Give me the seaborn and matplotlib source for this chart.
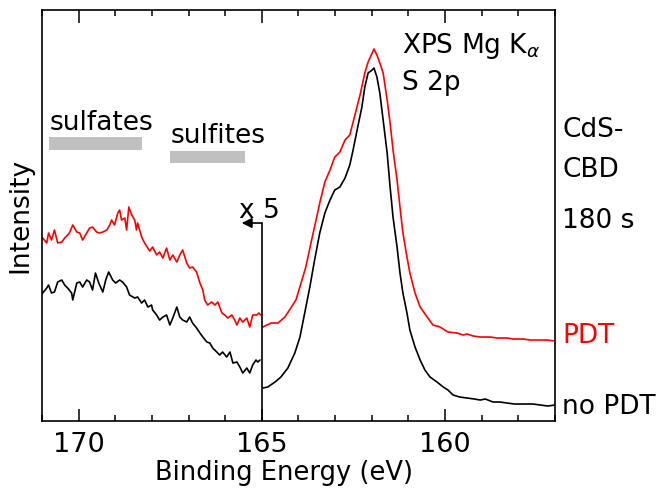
import matplotlib
matplotlib.use("Agg")
import matplotlib.pyplot as plt
import seaborn as sns
import pandas as pd

sns.set_style("ticks")
plt.rcParams['font.family'] = ['DejaVu Sans']
plt.rcParams['mathtext.fontset'] = 'dejavusans'
plt.rcParams.update({
    'text.color': 'black', 'axes.labelcolor': 'black', 'axes.edgecolor': 'black',
    'xtick.color': 'black', 'ytick.color': 'black',
    'xtick.direction': 'in', 'xtick.top': True, 'xtick.bottom': True,
    'xtick.major.size': 9, 'xtick.minor.size': 4.5,
    'xtick.major.width': 1.1, 'xtick.minor.width': 1.1,
    'xtick.minor.visible': False,
})

# ---- data (binding energy in eV, intensity in arbitrary units) ----
# region left of 165 eV is shown magnified x5
pdt_left_be = [170.98, 170.87, 170.82, 170.74, 170.66, 170.57, 170.46, 170.38, 170.25, 170.16,
               170.05, 169.97, 169.89, 169.78, 169.70, 169.62, 169.51, 169.43, 169.34, 169.23,
               169.15, 169.10, 169.02, 168.93, 168.88, 168.83, 168.74, 168.69, 168.63, 168.55,
               168.47, 168.42, 168.39, 168.28, 168.20, 168.06, 167.98, 167.87, 167.79, 167.70,
               167.60, 167.51, 167.43, 167.32, 167.24, 167.16, 167.05, 166.97, 166.89, 166.78,
               166.69, 166.61, 166.56, 166.48, 166.37, 166.28, 166.20, 166.09, 166.01, 165.93,
               165.82, 165.74, 165.68, 165.60, 165.52, 165.41, 165.33, 165.25, 165.14, 165.08, 165.03]
pdt_left_int = [183, 178, 188, 181, 191, 178, 179, 183, 188, 196,
                189, 188, 181, 188, 193, 194, 189, 188, 189, 191,
                196, 201, 196, 208, 211, 201, 203, 191, 214, 206,
                201, 191, 198, 184, 178, 170, 174, 166, 169, 163,
                173, 161, 166, 159, 166, 171, 158, 153, 154, 149,
                138, 131, 121, 116, 119, 116, 119, 108, 106, 103,
                106, 101, 96, 103, 99, 103, 94, 106, 106, 108, 106]

nopdt_left_be = [170.98, 170.87, 170.82, 170.74, 170.66, 170.57, 170.46, 170.38, 170.30, 170.19,
                 170.16, 170.05, 169.97, 169.89, 169.78, 169.70, 169.62, 169.54, 169.45, 169.34,
                 169.26, 169.18, 169.07, 168.99, 168.88, 168.80, 168.69, 168.61, 168.47, 168.39,
                 168.28, 168.20, 168.11, 168.01, 167.98, 167.87, 167.79, 167.70, 167.60, 167.51,
                 167.43, 167.32, 167.24, 167.16, 167.05, 166.97, 166.89, 166.78, 166.69, 166.61,
                 166.50, 166.42, 166.34, 166.23, 166.15, 166.07, 165.96, 165.87, 165.79, 165.68,
                 165.60, 165.52, 165.41, 165.33, 165.25, 165.16, 165.11, 165.05]
nopdt_left_int = [128, 133, 136, 128, 129, 139, 141, 136, 133, 128,
                  121, 138, 139, 134, 141, 139, 131, 148, 138, 129,
                  141, 149, 141, 138, 141, 139, 134, 126, 123, 124,
                  118, 121, 114, 116, 111, 106, 101, 104, 106, 96,
                  103, 114, 104, 101, 99, 104, 98, 93, 88, 84,
                  79, 78, 73, 69, 66, 69, 64, 69, 58, 59,
                  54, 48, 53, 48, 56, 61, 59, 61]

pdt_right_be = [164.97, 164.75, 164.56, 164.37, 164.21, 164.07, 163.93, 163.80, 163.66, 163.52,
                163.42, 163.28, 163.14, 163.01, 162.87, 162.73, 162.60, 162.46, 162.32, 162.19,
                162.10, 161.99, 161.94, 161.86, 161.78, 161.69, 161.58, 161.50, 161.42, 161.31,
                161.23, 161.15, 161.04, 160.96, 160.82, 160.68, 160.49, 160.33, 160.14, 159.92,
                159.67, 159.51, 159.40, 159.23, 159.04, 158.77, 158.58, 158.31, 158.14, 157.87,
                157.68, 157.40, 157.21, 157.00]
pdt_right_int = [94, 98, 98, 104, 113, 121, 138, 154, 178, 201,
                 218, 239, 251, 264, 269, 281, 286, 306, 326, 348,
                 359, 368, 372, 366, 358, 348, 321, 298, 271, 241,
                 214, 188, 164, 148, 128, 114, 104, 96, 94, 89,
                 88, 86, 87, 85, 84, 84, 83, 83, 82, 82,
                 81, 81, 81, 80]

nopdt_right_be = [164.97, 164.84, 164.64, 164.48, 164.29, 164.10, 163.96, 163.83, 163.69, 163.56,
                  163.42, 163.28, 163.14, 163.01, 162.87, 162.73, 162.60, 162.51, 162.40, 162.27,
                  162.19, 162.10, 161.99, 161.94, 161.86, 161.78, 161.69, 161.58, 161.50, 161.42,
                  161.31, 161.23, 161.15, 161.04, 160.96, 160.82, 160.68, 160.55, 160.41, 160.22,
                  160.05, 159.92, 159.78, 159.60, 159.40, 159.20, 159.04, 158.90, 158.69, 158.50,
                  158.31, 158.10, 157.87, 157.60, 157.40, 157.20, 157.00]
nopdt_right_int = [33, 34, 39, 44, 53, 68, 84, 108, 134, 161,
                   188, 208, 221, 231, 234, 243, 256, 271, 291, 314,
                   334, 348, 351, 353, 344, 328, 301, 268, 234, 204,
                   174, 148, 128, 108, 91, 74, 61, 51, 44, 39,
                   34, 31, 26, 24, 23, 22, 21, 22, 19, 19,
                   18, 17, 17, 17, 16, 15, 16]

ticks_major = [170, 165, 160]
tick_labels = ["170", "165", "160"]
ticks_minor = [171, 169, 168, 167, 166, 164, 163, 162, 161, 159, 158, 157]

# ---- figure ----
fig = plt.figure(figsize=(6.63, 4.93), dpi=100)
ax = fig.add_axes([0.0633, 0.146, 0.7738, 0.8337])

lw = 1.2
for be, inten, col in [(pdt_left_be, pdt_left_int, 'red'),
                       (nopdt_left_be, nopdt_left_int, 'black'),
                       (pdt_right_be, pdt_right_int, 'red'),
                       (nopdt_right_be, nopdt_right_int, 'black')]:
    df = pd.DataFrame({'be': be, 'int': inten})
    sns.lineplot(data=df, x='be', y='int', color=col, lw=lw, ax=ax,
                 sort=False, estimator=None)

ax.set_xlim(171, 157)
ax.set_ylim(0, 411)

# x5 separator line and arrow
ax.plot([165, 165], [0, 198], color='black', lw=1.2)
ax.annotate("", xy=(165.55, 198), xytext=(165.0, 198),
            arrowprops=dict(arrowstyle='-|>', color='black', lw=1.2,
                            mutation_scale=15, shrinkA=0, shrinkB=0))
ax.text(165.08, 203, "x 5", fontsize=19, ha='center', va='baseline')

# reference bars
ax.fill_between([170.82, 168.28], 271, 284, color='#c0c0c0', lw=0)
ax.fill_between([167.51, 165.46], 258, 270, color='#c0c0c0', lw=0)
ax.text(170.79, 291, "sulfates", fontsize=19, ha='left', va='baseline')
ax.text(167.49, 278, "sulfites", fontsize=19, ha='left', va='baseline')

ax.text(161.17, 368, r"XPS Mg K$_\alpha$", fontsize=19, ha='left', va='baseline')
ax.text(161.17, 331, "S 2p", fontsize=19, ha='left', va='baseline')

# labels to the right of the axes
for txt, y, col in [("CdS-", 284, 'black'), ("CBD", 244, 'black'), ("180 s", 193, 'black'),
                    ("PDT", 78, 'red'), ("no PDT", 7, 'black')]:
    ax.text(156.80, y, txt, fontsize=19, color=col, ha='left', va='baseline', clip_on=False)

# axes styling
ax.set_xticks(ticks_major)
ax.set_xticklabels(tick_labels)
ax.set_xticks(ticks_minor, minor=True)
ax.tick_params(axis='x', which='major', direction='in', length=9, width=1.1,
               top=True, bottom=True, labelsize=19.5, pad=8, color='black',
               labelcolor='black')
ax.tick_params(axis='x', which='minor', direction='in', length=4.5, width=1.1,
               top=True, bottom=True, color='black')
for t in ax.xaxis.get_major_ticks() + ax.xaxis.get_minor_ticks():
    t.tick1line.set_visible(True)
    t.tick2line.set_visible(True)
    t.tick1line.set_zorder(5)
    t.tick2line.set_zorder(5)
ax.set_yticks([])
for s in ax.spines.values():
    s.set_linewidth(1.2)
    s.set_visible(True)
    s.set_color('black')

ax.set_xlabel("Binding Energy (eV)", fontsize=18.5, color='black')
ax.xaxis.set_label_coords(0.472, -0.095)
ax.set_ylabel("Intensity", fontsize=19, labelpad=6, color='black')

fig.savefig("out.png", dpi=100)
